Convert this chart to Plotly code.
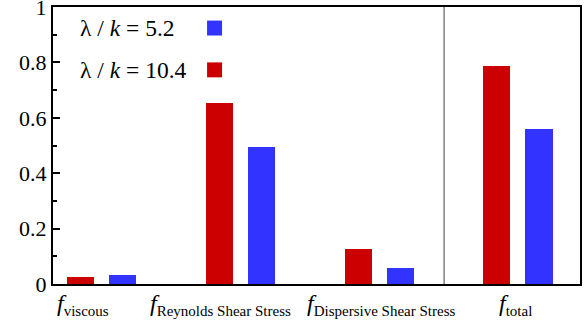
import plotly.graph_objects as go

categories = ["viscous", "Reynolds Shear Stress", "Dispersive Shear Stress", "total"]
series_names = ["λ / <i>k</i> = 10.4", "λ / <i>k</i> = 5.2"]
values_10_4 = [0.027, 0.653, 0.128, 0.787]
values_5_2 = [0.031, 0.494, 0.058, 0.558]
y_tickvals = [0, 0.2, 0.4, 0.6, 0.8, 1]
y_ticktext = ["0", "0.2", "0.4", "0.6", "0.8", "1"]

RED = "#CC0000"
BLUE = "#3333FF"
FONT = "Liberation Serif"

x = list(range(len(categories)))

fig = go.Figure()
fig.add_trace(go.Bar(x=x, y=values_10_4, width=0.195, offset=-0.249,
                     marker=dict(color=RED, line=dict(width=0)), name=series_names[0],
                     showlegend=False))
fig.add_trace(go.Bar(x=x, y=values_5_2, width=0.195, offset=0.054,
                     marker=dict(color=BLUE, line=dict(width=0)), name=series_names[1],
                     showlegend=False))

# category labels (italic f with subscript)
label_left = [-0.335, 0.335, 1.466, 2.848]
for xi, cat in zip(label_left, categories):
    fig.add_annotation(x=xi, y=0, xref="x", yref="paper", yanchor="top", xanchor="left",
                       yshift=-4, showarrow=False,
                       text=f"<i>f</i><sub><span style='font-size:15px'>{cat}</span></sub>",
                       font=dict(family=FONT, size=24, color="black"))

# separator line
fig.add_shape(type="line", x0=2.468, x1=2.468, y0=0, y1=1, xref="x", yref="paper",
              line=dict(color="#808080", width=1.5))

# custom legend (text then swatch)
leg_y = [0.924, 0.773]
leg_labels = [series_names[1], series_names[0]]
leg_colors = [BLUE, RED]
for yy, lab, col in zip(leg_y, leg_labels, leg_colors):
    fig.add_annotation(x=-0.172, y=yy, xref="x", yref="paper", xanchor="left", yanchor="middle",
                       showarrow=False, text=lab, font=dict(family=FONT, size=23.5, color="black"))
    fig.add_shape(type="rect", x0=0.76, x1=0.868, y0=yy - 0.027, y1=yy + 0.027,
                  xref="x", yref="paper", fillcolor=col, line=dict(width=0))

fig.update_layout(
    width=586, height=328,
    margin=dict(l=53, r=6, t=7, b=44, autoexpand=False),
    paper_bgcolor="white", plot_bgcolor="white",
    font=dict(family=FONT, size=22, color="black"),
    bargap=0,
)
fig.update_xaxes(range=[-0.35, 3.447], showticklabels=False, ticks="", showgrid=False,
                 zeroline=False, showline=True, linecolor="black", linewidth=2, mirror=True,
                 automargin=False)
fig.update_yaxes(range=[0, 1], tickvals=y_tickvals, ticktext=y_ticktext, ticks="inside",
                 ticklen=7, tickwidth=1.5, tickcolor="black", showgrid=False, zeroline=False,
                 showline=True, linecolor="black", linewidth=2, mirror=True,
                 automargin=False, ticklabeloverflow="allow",
                 minor=dict(dtick=0.1, tick0=0, ticks="inside", ticklen=4, tickwidth=1.5,
                            tickcolor="black", showgrid=False),
                 tickfont=dict(family=FONT, size=22))

fig.write_html("out.html", config={"displayModeBar": False},
               post_script="document.body.style.margin='0';document.body.style.padding='0';")
